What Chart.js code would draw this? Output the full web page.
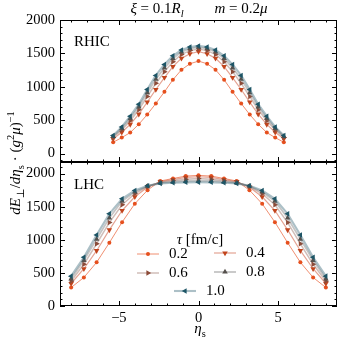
<!DOCTYPE html>
<html>
<head>
<meta charset="utf-8">
<script src="https://cdn.jsdelivr.net/npm/chart.js@4.4.1/dist/chart.umd.min.js"></script>
<style>
    html, body { margin: 0; padding: 0; background: #fff; }
    #wrap { position: relative; width: 341px; height: 341px; overflow: hidden; font-family: "Liberation Serif", "DejaVu Serif", serif; color: #000; }
    #wrap canvas { position: absolute; left: 0; top: 0; }
    .lbl { position: absolute; transform: translate(-50%, -50%); white-space: nowrap; line-height: 1; font-size: 15px; }
    .lbl.left { transform: translate(0, -50%); }
    .lbl sub, .lbl sup { font-size: 70%; line-height: 0; }
    .rot { transform: translate(-50%, -50%) rotate(-90deg); }
</style>
</head>
<body>
<div id="wrap">
    <canvas id="rhicChart" width="341" height="341"></canvas>
    <canvas id="lhcChart" width="341" height="341"></canvas>
    <div class="lbl" style="left:157px;top:8px"><i>ξ</i> = 0.1<i>R</i><sub><i>l</i></sub></div>
    <div class="lbl" style="left:241px;top:8px"><i>m</i> = 0.2<i>μ</i></div>
    <div class="lbl left" style="left:74px;top:41px">RHIC</div>
    <div class="lbl left" style="left:74px;top:184px">LHC</div>
    <div class="lbl" style="left:200px;top:328px"><i>η</i><sub>s</sub></div>
    <div class="lbl rot" style="left:15px;top:163px"><i>dE</i><sub>⊥</sub>/<i>dη</i><sub>s</sub> · (<i>g</i><sup>2</sup><i>μ</i>)<sup>−1</sup></div>
</div>
<script>
const tauLabels = ["0.2", "0.4", "0.6", "0.8", "1.0"];

const rhicEta = [-5.36, -4.82, -4.29, -3.75, -3.22, -2.68, -2.14, -1.61, -1.07, -0.54, 0,
    0.54, 1.07, 1.61, 2.14, 2.68, 3.22, 3.75, 4.29, 4.82, 5.36];
const rhicTau02 = [170, 240, 315, 440, 585, 750, 925, 1105, 1255, 1345, 1385, 1345, 1255, 1105, 925, 750, 585, 440, 315, 240, 170];
const rhicTau04 = [221, 320, 437, 590, 772, 960, 1138, 1303, 1426, 1495, 1526, 1495, 1426, 1303, 1138, 960, 772, 590, 437, 320, 221];
const rhicTau06 = [243, 355, 491, 656, 855, 1052, 1225, 1375, 1485, 1542, 1567, 1542, 1485, 1375, 1225, 1052, 855, 656, 491, 355, 243];
const rhicTau08 = [259, 379, 528, 701, 911, 1115, 1285, 1425, 1523, 1573, 1594, 1573, 1523, 1425, 1285, 1115, 911, 701, 528, 379, 259];
const rhicTau10 = [272, 400, 560, 740, 960, 1170, 1335, 1465, 1550, 1595, 1612, 1595, 1550, 1465, 1335, 1170, 960, 740, 560, 400, 272];

const lhcEta = [-8, -7.2, -6.4, -5.6, -4.8, -4, -3.2, -2.4, -1.6, -0.8, 0,
    0.8, 1.6, 2.4, 3.2, 4, 4.8, 5.6, 6.4, 7.2, 8];
const lhcTau02 = [279, 431, 659, 956, 1266, 1544, 1750, 1888, 1926, 1962, 1973, 1962, 1926, 1888, 1750, 1544, 1266, 956, 659, 431, 279];
const lhcTau04 = [340, 563, 835, 1149, 1442, 1650, 1795, 1878, 1910, 1942, 1952, 1942, 1910, 1878, 1795, 1650, 1442, 1149, 835, 563, 340];
const lhcTau06 = [375, 630, 940, 1260, 1530, 1695, 1805, 1868, 1893, 1915, 1925, 1915, 1893, 1868, 1805, 1695, 1530, 1260, 940, 630, 375];
const lhcTau08 = [410, 690, 1010, 1330, 1585, 1722, 1810, 1860, 1876, 1890, 1895, 1890, 1876, 1860, 1810, 1722, 1585, 1330, 1010, 690, 410];
const lhcTau10 = [451, 735, 1073, 1392, 1620, 1745, 1815, 1852, 1862, 1868, 1870, 1868, 1862, 1852, 1815, 1745, 1620, 1392, 1073, 735, 451];

const yTicks = [0, 500, 1000, 1500, 2000];
const xTicks = [-5, 0, 5];
const yMinorStep = 100;
const xMinorStep = 1;

const serifFont = "'Liberation Serif', 'DejaVu Serif', serif";
const markerColors = ["#e6501e", "#c2441c", "#8c4b38", "#55504c", "#1d5566"];
const lineColors = ["rgba(235,105,65,0.75)", "rgba(205,90,60,0.55)", "rgba(150,110,100,0.45)", "rgba(125,125,125,0.45)", "rgba(70,115,130,0.45)"];
const lineWidths = [1, 1.2, 1.5, 1.8, 2.1];
const pointStyles = ["circle", "triangle", "triangle", "triangle", "triangle"];
const pointRotations = [0, 180, 90, 0, 270];
const pointRadii = [2, 3.2, 3.2, 3.2, 3.2];

function montarDatasets(eta, series) {
    return series.map(function (valores, i) {
        return {
            label: tauLabels[i],
            data: valores.map(function (v, k) { return { x: eta[k], y: v }; }),
            borderColor: lineColors[i],
            borderWidth: lineWidths[i],
            pointBackgroundColor: markerColors[i],
            pointBorderColor: markerColors[i],
            pointBorderWidth: 0,
            pointStyle: pointStyles[i],
            pointRotation: pointRotations[i],
            pointRadius: pointRadii[i],
            tension: 0,
            fill: false,
            order: 4 - i
        };
    });
}

function formatarTick(v) {
    return v < 0 ? "\u2212" + Math.abs(v) : String(v);
}

// frame + inward major/minor ticks on all four sides
const molduraEixos = {
    id: "molduraEixos",
    afterDraw(chart) {
        const ctx = chart.ctx;
        const a = chart.chartArea;
        const sx = chart.scales.x;
        const sy = chart.scales.y;
        ctx.save();
        ctx.strokeStyle = "#000";
        ctx.lineWidth = 1;
        ctx.strokeRect(a.left + 0.5, a.top + 0.5, a.right - a.left - 1, a.bottom - a.top - 1);
        ctx.beginPath();
        for (let v = Math.ceil(sy.min / yMinorStep) * yMinorStep; v <= sy.max; v += yMinorStep) {
            const py = Math.round(sy.getPixelForValue(v)) + 0.5;
            const len = v % 500 === 0 ? 5 : 2.5;
            ctx.moveTo(a.left, py); ctx.lineTo(a.left + len, py);
            ctx.moveTo(a.right, py); ctx.lineTo(a.right - len, py);
        }
        for (let v = Math.ceil(sx.min / xMinorStep) * xMinorStep; v <= sx.max; v += xMinorStep) {
            const px = Math.round(sx.getPixelForValue(v)) + 0.5;
            const len = v % 5 === 0 ? 5 : 2.5;
            ctx.moveTo(px, a.bottom); ctx.lineTo(px, a.bottom - len);
            ctx.moveTo(px, a.top); ctx.lineTo(px, a.top + len);
        }
        ctx.stroke();
        ctx.restore();
    }
};

function desenharMarcador(ctx, ds, x, y) {
    const r = ds.pointRadius;
    ctx.fillStyle = ds.pointBackgroundColor;
    ctx.beginPath();
    if (ds.pointStyle === "circle") {
        ctx.arc(x, y, r, 0, Math.PI * 2);
    } else {
        let rad = ds.pointRotation * Math.PI / 180;
        for (let k = 0; k < 3; k++) {
            const px = x + Math.sin(rad) * r;
            const py = y - Math.cos(rad) * r;
            if (k === 0) ctx.moveTo(px, py); else ctx.lineTo(px, py);
            rad += 2 * Math.PI / 3;
        }
        ctx.closePath();
    }
    ctx.fill();
}

const legendaTau = {
    id: "legendaTau",
    afterDraw(chart) {
        const ctx = chart.ctx;
        const slots = [[137, 254], [214, 253], [137, 273], [214, 272], [174, 291]];
        ctx.save();
        ctx.textBaseline = "middle";
        ctx.textAlign = "left";
        ctx.fillStyle = "#000";
        ctx.font = "italic 15px " + serifFont;
        const wTau = ctx.measureText("\u03c4").width;
        ctx.font = "15px " + serifFont;
        const wResto = ctx.measureText(" [fm/c]").width;
        const tx = 200 - (wTau + wResto) / 2;
        ctx.font = "italic 15px " + serifFont;
        ctx.fillText("\u03c4", tx, 240);
        ctx.font = "15px " + serifFont;
        ctx.fillText(" [fm/c]", tx + wTau, 240);

        chart.data.datasets.forEach(function (ds, i) {
            const x0 = slots[i][0];
            const y0 = slots[i][1];
            ctx.strokeStyle = ds.borderColor;
            ctx.lineWidth = ds.borderWidth;
            ctx.beginPath();
            ctx.moveTo(x0, y0);
            ctx.lineTo(x0 + 22, y0);
            ctx.stroke();
            desenharMarcador(ctx, ds, x0 + 11, y0);
            ctx.fillStyle = "#000";
            ctx.fillText(ds.label, x0 + 32, y0);
        });
        ctx.restore();
    }
};

function montarOpcoes(cfg) {
    const fonteTicks = { family: serifFont, size: 14.5 };
    return {
        responsive: false,
        animation: false,
        devicePixelRatio: 1,
        layout: { padding: { left: 0, right: 1, top: cfg.top, bottom: cfg.bottom } },
        plugins: {
            legend: { display: false },
            tooltip: { enabled: false }
        },
        scales: {
            x: {
                type: "linear",
                min: -8.7,
                max: 8.7,
                display: cfg.mostrarX,
                grid: { display: false, drawTicks: false },
                border: { display: false },
                ticks: { padding: 3, color: "#000", font: fonteTicks, callback: formatarTick },
                afterBuildTicks: function (s) { s.ticks = xTicks.map(function (v) { return { value: v }; }); },
                afterFit: function (s) { if (cfg.mostrarX) s.height = 35; }
            },
            y: {
                type: "linear",
                min: cfg.yMin,
                max: cfg.yMax,
                grid: { display: false, drawTicks: false },
                border: { display: false },
                ticks: { padding: 5, color: "#000", font: fonteTicks, callback: formatarTick },
                afterBuildTicks: function (s) { s.ticks = yTicks.map(function (v) { return { value: v }; }); },
                afterFit: function (s) { s.width = 60; }
            }
        }
    };
}

new Chart(document.getElementById("rhicChart"), {
    type: "line",
    data: { datasets: montarDatasets(rhicEta, [rhicTau02, rhicTau04, rhicTau06, rhicTau08, rhicTau10]) },
    options: montarOpcoes({ top: 20, bottom: 179, yMin: -125, yMax: 2000, mostrarX: false }),
    plugins: [molduraEixos]
});

new Chart(document.getElementById("lhcChart"), {
    type: "line",
    data: { datasets: montarDatasets(lhcEta, [lhcTau02, lhcTau04, lhcTau06, lhcTau08, lhcTau10]) },
    options: montarOpcoes({ top: 162, bottom: 0, yMin: 0, yMax: 2175, mostrarX: true }),
    plugins: [molduraEixos, legendaTau]
});
</script>
</body>
</html>
